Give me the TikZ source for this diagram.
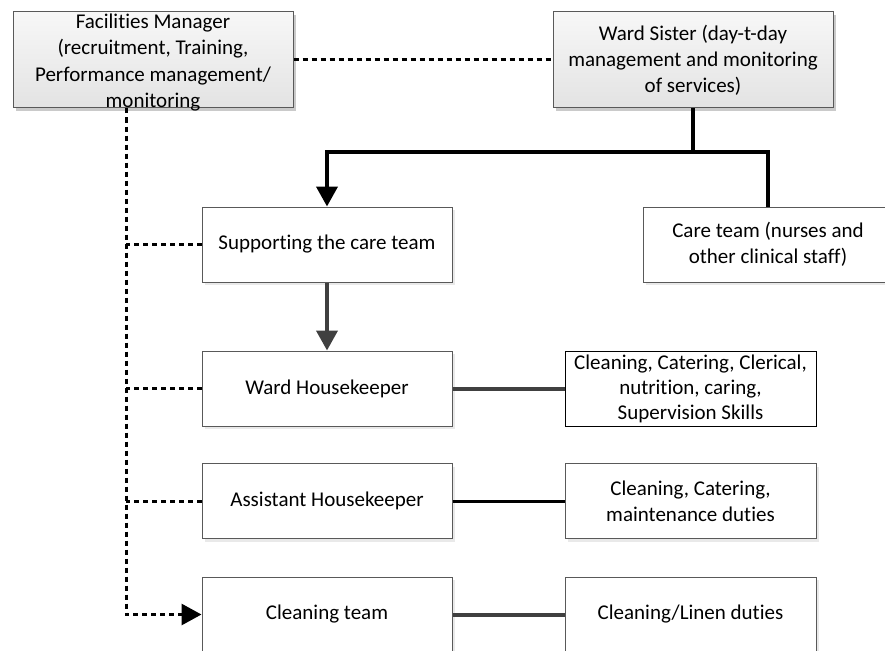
\documentclass[tikz,border=0pt]{standalone}
\usepackage{fontspec}
\setmainfont[Ligatures=NoCommon]{Carlito}
\usetikzlibrary{arrows.meta,shadows}

\definecolor{edgegrey}{HTML}{595959}
\definecolor{linkgrey}{HTML}{404040}

\tikzset{
  basebox/.style={draw=edgegrey, line width=1pt, align=center, inner sep=2pt,
    font=\fontsize{21}{26}\selectfont},
  headbox/.style={basebox, minimum width=280pt, minimum height=96pt,
    top color=black!3, bottom color=black!11,
    drop shadow={shadow xshift=3pt, shadow yshift=-3pt, fill=black!35, opacity=0.6}},
  rolebox/.style={basebox, fill=white, minimum width=250pt, minimum height=75pt,
    drop shadow={shadow xshift=3pt, shadow yshift=-3pt, fill=black!12, opacity=0.7}},
  dutybox/.style={rolebox, minimum width=251pt},
  plainbox/.style={basebox, draw=black, fill=white, minimum width=251pt, minimum height=75pt,
    font=\fontsize{21}{25}\selectfont},
  boxtext/.style={align=center, inner sep=0pt, font=\fontsize{21}{26.5}\selectfont},
  dotline/.style={line width=3pt, dash pattern=on 5pt off 4pt, black},
  boldline/.style={line width=4pt, black},
  greyline/.style={line width=4pt, linkgrey},
  tip/.style={-{Triangle[length=20pt,width=21pt]}},
}

\begin{document}
\begin{tikzpicture}[x=1pt, y=-1pt]
  \useasboundingbox (0,0) rectangle (885,650);

  % management level
  \node[headbox] (fm) at (153,60) {};
  \node[boxtext] (fmtext) at ([yshift=-2.5pt]fm.center)
    {Facilities Manager\\(recruitment, Training,\\Performance management/\\monitoring};
  \node[headbox] (ws) at (693,60)
    {Ward Sister (day-t-day\\management and monitoring\\of services)};

  % teams
  \node[rolebox] (sup)  at (327,244.5) {Supporting the care team};
  \node[rolebox] (care) at (768,244.5) {Care team (nurses and\\other clinical staff)};
  \node[rolebox] (wh)   at (327,388.5) {Ward Housekeeper};
  \node[rolebox] (ah)   at (327,501)   {Assistant Housekeeper};
  \node[rolebox] (ct)   at (327,614.5) {Cleaning team};

  % duties
  \node[plainbox] (d1) at (690.5,388.5) {Cleaning, Catering, Clerical,\\nutrition, caring,\\Supervision Skills};
  \node[dutybox]  (d2) at (690.5,501)   {Cleaning, Catering,\\maintenance duties};
  \node[dutybox]  (d3) at (690.5,614.5) {Cleaning/Linen duties};

  % helper points
  \coordinate (bus)   at (693,152);
  \coordinate (spine) at (126,0);

  % line management from the ward sister
  \draw[boldline] (ws.south) -- (bus);
  \draw[boldline, tip] (bus) -| (sup.north);
  \draw[boldline] (bus) -| (care.north);
  \draw[greyline, tip] (sup.south) -- (wh.north);

  % duties of each role
  \draw[greyline] (wh.east) -- (d1.west);
  \draw[line width=3pt, black] (ah.east) -- (d2.west);
  \draw[greyline] (ct.east) -- (d3.west);

  % facilities manager links
  \draw[dotline] (fm.east) -- (ws.west);
  \draw[dotline, tip] (fm.south -| spine) |- (ct.west);
  \draw[dotline] (sup.west) -- (sup.west -| spine);
  \draw[dotline] (wh.west) -- (wh.west -| spine);
  \draw[dotline] (ah.west) -- (ah.west -| spine);
\end{tikzpicture}
\end{document}
